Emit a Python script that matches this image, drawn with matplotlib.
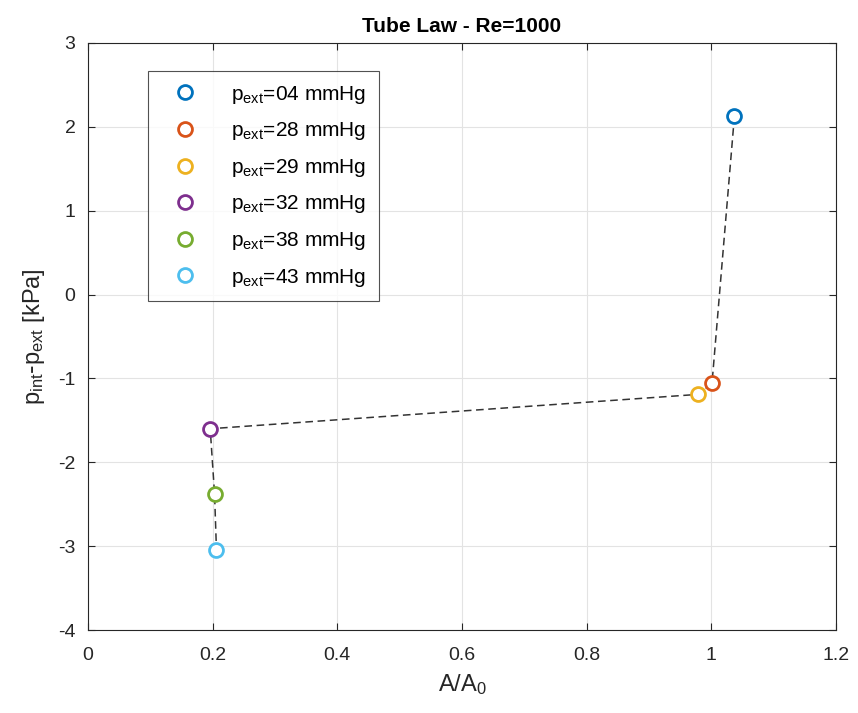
import matplotlib
matplotlib.use("Agg")
import matplotlib.pyplot as plt

plt.rcParams['font.family'] = ['Liberation Sans', 'DejaVu Sans']

# external pressure levels and measured tube-law points
p_ext_labels = ["04", "28", "29", "32", "38", "43"]
area_ratio = [1.037, 1.001, 0.979, 0.196, 0.203, 0.206]
dp_kpa = [2.13, -1.06, -1.19, -1.60, -2.38, -3.04]
colors = ["#0072BD", "#D95319", "#EDB120", "#7E2F8E", "#77AC30", "#4DBEEE"]

fig = plt.figure(figsize=(8.58, 7.13), dpi=100)
ax = fig.add_axes([0.1026, 0.1164, 0.8718, 0.8233])

# connecting dashed line
ax.plot(area_ratio, dp_kpa, '--', color='#333333', lw=1.1, dashes=(5, 3), zorder=2)

for x, y, c, lab in zip(area_ratio, dp_kpa, colors, p_ext_labels):
    ax.plot(x, y, 'o', ms=10, mfc='white', mec=c, mew=2,
            label=r'$\mathregular{p_{ext}}$=' + lab + ' mmHg', zorder=3)

ax.set_xlim(0, 1.2)
ax.set_ylim(-4, 3)
ax.set_xticks([0, 0.2, 0.4, 0.6, 0.8, 1.0, 1.2])
ax.set_xticklabels(["0", "0.2", "0.4", "0.6", "0.8", "1", "1.2"])
ax.set_yticks(range(-4, 4))
ax.set_yticklabels([str(v) if v >= 0 else "-" + str(-v) for v in range(-4, 4)])

ax.grid(True, color='#e3e3e3', lw=0.8)
ax.set_axisbelow(True)
ax.tick_params(axis='x', pad=12)
ax.tick_params(axis='y', pad=9)
ax.tick_params(direction='in', top=True, right=True, labelsize=14,
               colors='#262626', length=5)
for s in ax.spines.values():
    s.set_color('#262626')
    s.set_linewidth(0.8)

ax.set_xlabel(r'$\mathregular{A/A_0}$', fontsize=17, color='#262626', labelpad=6)
ax.set_ylabel(r'$\mathregular{p_{int}\text{-}p_{ext}}$ [kPa]', fontsize=17,
              color='#262626', labelpad=8)
ax.set_title('Tube Law - Re=1000', fontsize=15, fontweight='bold', pad=8)

leg = ax.legend(loc='upper left', bbox_to_anchor=(0.08, 0.952), fontsize=15,
                frameon=True, fancybox=False, edgecolor='#262626',
                borderpad=0.6, labelspacing=0.7, handletextpad=1.0,
                borderaxespad=0, handlelength=2.4)
leg.get_frame().set_linewidth(0.8)

fig.savefig("out.png", dpi=100)
